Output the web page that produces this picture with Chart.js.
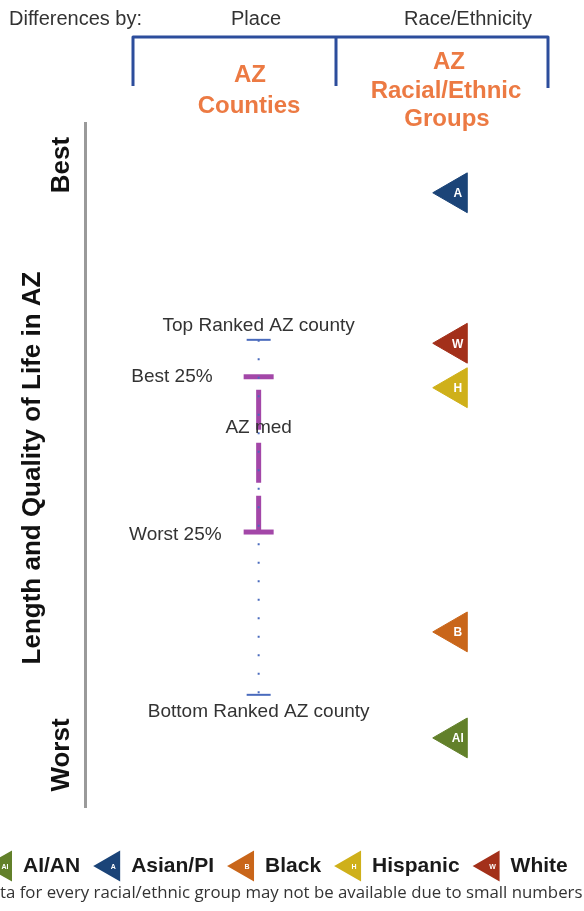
<!DOCTYPE html>
<html lang="en">
<head>
<meta charset="UTF-8">
<title>Length and Quality of Life in AZ</title>
<script src="https://cdn.jsdelivr.net/npm/chart.js@4.4.1/dist/chart.umd.min.js"></script>
<style>
  html, body { margin: 0; padding: 0; background: #fff; }
  #grafico { display: block; }
</style>
</head>
<body>
<canvas id="grafico" width="584" height="911"></canvas>
<script>
// Dados (0 = pior, 100 = melhor)
const grupos = ['AI/AN', 'Asian/PI', 'Black', 'Hispanic', 'White'];
const letrasGrupos = ['AI', 'A', 'B', 'H', 'W'];
const coresGrupos = ['#62802a', '#1b4478', '#c9661a', '#cfb01a', '#a3301a'];
const valoresGrupos = [10.1, 89.8, 25.6, 61.3, 67.8];

const rotulosCondados = ['Top Ranked AZ county', 'Best 25%', 'AZ med', 'Worst 25%', 'Bottom Ranked AZ county'];
const valoresCondados = [68.3, 62.9, 55.4, 40.2, 16.4];

const colunas = ['Place', 'Race/Ethnicity'];
const titulosColunas = [['AZ', 'Counties'], ['AZ', 'Racial/Ethnic', 'Groups']];
const rotulosEixo = ['Best', 'Length and Quality of Life in AZ', 'Worst'];
const nota = 'ta for every racial/ethnic group may not be available due to small numbers';

// Posição horizontal das duas colunas (escala x de 0 a 100)
const X_CONDADOS = 34.8;
const X_GRUPOS = 74.3;

const FONTE = '"Liberation Sans", Arial, sans-serif';
const LARANJA = '#ec7a43';
const AZUL_CHAVE = '#2c4d9c';
const ROXO = '#a347a8';
const AZUL_PONTOS = '#4a6bbd';

// Cabeçalho com a chave azul
function desenharCabecalho(ctx) {
  ctx.save();
  ctx.fillStyle = '#333';
  ctx.font = '20px ' + FONTE;
  ctx.textBaseline = 'middle';
  ctx.textAlign = 'left';
  ctx.fillText('Differences by:', 9, 19);
  ctx.textAlign = 'center';
  ctx.fillText(colunas[0], 256, 19);
  ctx.fillText(colunas[1], 468, 19);

  ctx.strokeStyle = AZUL_CHAVE;
  ctx.lineWidth = 3;
  ctx.lineJoin = 'round';
  ctx.beginPath();
  ctx.moveTo(133, 86);
  ctx.lineTo(133, 37);
  ctx.lineTo(548, 37);
  ctx.lineTo(548, 88);
  ctx.moveTo(336, 37);
  ctx.lineTo(336, 86);
  ctx.stroke();

  ctx.fillStyle = LARANJA;
  ctx.font = 'bold 24px ' + FONTE;
  ctx.fillText(titulosColunas[0][0], 250, 75);
  ctx.fillText(titulosColunas[0][1], 249, 106);
  ctx.fillText(titulosColunas[1][0], 449, 62);
  ctx.fillText(titulosColunas[1][1], 446, 91);
  ctx.fillText(titulosColunas[1][2], 447, 119);
  ctx.restore();
}

// Textos verticais à esquerda do eixo
function desenharEixoEsquerdo(chart) {
  const ctx = chart.ctx;
  ctx.save();
  ctx.fillStyle = '#111';
  ctx.font = 'bold 26px ' + FONTE;
  ctx.textAlign = 'center';
  ctx.textBaseline = 'middle';
  const posicoes = [[62, 165], [33, 468], [62, 755]];
  rotulosEixo.forEach((texto, i) => {
    ctx.save();
    ctx.translate(posicoes[i][0], posicoes[i][1]);
    ctx.rotate(-Math.PI / 2);
    ctx.fillText(texto, 0, 0);
    ctx.restore();
  });
  ctx.restore();
}

// Rótulos da coluna de condados, presos aos valores da escala
function desenharRotulosCondados(chart) {
  const ctx = chart.ctx;
  const xs = chart.scales.x;
  const ys = chart.scales.y;
  const xc = xs.getPixelForValue(X_CONDADOS);
  ctx.save();
  ctx.fillStyle = '#333';
  ctx.font = '19px ' + FONTE;
  ctx.textBaseline = 'middle';
  const ajustes = [
    { dx: 0, dy: -14, alinhar: 'center' },
    { dx: -46, dy: 0, alinhar: 'right' },
    { dx: 0, dy: 0, alinhar: 'center' },
    { dx: -37, dy: 3, alinhar: 'right' },
    { dx: 0, dy: 17, alinhar: 'center' }
  ];
  rotulosCondados.forEach((texto, i) => {
    const y = ys.getPixelForValue(valoresCondados[i]);
    ctx.textAlign = ajustes[i].alinhar;
    ctx.fillText(texto, xc + ajustes[i].dx, y + ajustes[i].dy);
  });
  ctx.restore();
}

// Triângulo apontando para a esquerda
function desenharTriangulo(ctx, cor, x, y, raio) {
  ctx.fillStyle = cor;
  ctx.strokeStyle = cor;
  if (Chart.helpers && Chart.helpers.drawPoint) {
    Chart.helpers.drawPoint(ctx, { pointStyle: 'triangle', rotation: -90, radius: raio, borderWidth: 1 }, x, y);
  } else {
    ctx.beginPath();
    ctx.moveTo(x - raio, y);
    ctx.lineTo(x + raio / 2, y - raio * 0.866);
    ctx.lineTo(x + raio / 2, y + raio * 0.866);
    ctx.closePath();
    ctx.fill();
  }
}

// Legenda no rodapé
function desenharLegenda(ctx) {
  const y = 866;
  const raio = 16;
  ctx.save();
  ctx.textBaseline = 'middle';
  ctx.textAlign = 'left';
  let x = -13;
  grupos.forEach((nome, i) => {
    desenharTriangulo(ctx, coresGrupos[i], x + raio, y, raio);
    ctx.fillStyle = '#fff';
    ctx.font = 'bold 7px ' + FONTE;
    ctx.textAlign = 'center';
    ctx.fillText(letrasGrupos[i], x + raio + 2, y + 1);
    const xTexto = x + raio * 1.5 + 12;
    ctx.fillStyle = '#1a1a1a';
    ctx.font = 'bold 21px ' + FONTE;
    ctx.textAlign = 'left';
    ctx.fillText(nome, xTexto, y);
    x = xTexto + ctx.measureText(nome).width + 15;
  });
  ctx.restore();
}

// Nota de rodapé
function desenharNota(ctx) {
  ctx.save();
  ctx.font = '14px "Open Sans", sans-serif';
  const largura = ctx.measureText(nota).width;
  const tamanho = 14 * 583 / largura;
  ctx.font = tamanho.toFixed(2) + 'px "Open Sans", sans-serif';
  ctx.fillStyle = '#333';
  ctx.textBaseline = 'middle';
  ctx.textAlign = 'left';
  ctx.fillText(nota, 0, 893);
  ctx.restore();
}

const pluginTextos = {
  id: 'textos',
  afterDatasetsDraw(chart) {
    const ctx = chart.ctx;
    const meta = chart.getDatasetMeta(2);
    ctx.save();
    ctx.fillStyle = '#fff';
    ctx.font = 'bold 12px ' + FONTE;
    ctx.textAlign = 'center';
    ctx.textBaseline = 'middle';
    meta.data.forEach((ponto, i) => {
      ctx.fillText(letrasGrupos[i], ponto.x + 2, ponto.y + 1);
    });
    ctx.restore();
  },
  afterDraw(chart) {
    desenharCabecalho(chart.ctx);
    desenharEixoEsquerdo(chart);
    desenharRotulosCondados(chart);
    desenharLegenda(chart.ctx);
    desenharNota(chart.ctx);
  }
};

function criarGrafico() {
  const ctx = document.getElementById('grafico').getContext('2d');
  new Chart(ctx, {
    type: 'scatter',
    data: {
      datasets: [
        {
          // faixa completa dos condados (pontilhada)
          label: 'AZ counties',
          data: [
            { x: X_CONDADOS, y: valoresCondados[0] },
            { x: X_CONDADOS, y: valoresCondados[4] }
          ],
          showLine: true,
          borderColor: AZUL_PONTOS,
          borderWidth: 2,
          borderDash: [2, 16.5],
          pointStyle: 'line',
          pointRadius: 12,
          pointBorderColor: AZUL_PONTOS,
          pointBorderWidth: 2,
          clip: false
        },
        {
          // quartis (tracejado roxo)
          label: 'Best 25% - Worst 25%',
          data: [
            { x: X_CONDADOS, y: valoresCondados[1] },
            { x: X_CONDADOS, y: valoresCondados[3] }
          ],
          showLine: true,
          borderColor: ROXO,
          borderWidth: 5,
          borderDash: [40, 13],
          borderDashOffset: 40,
          pointStyle: 'line',
          pointRadius: 15,
          pointBorderColor: ROXO,
          pointBorderWidth: 5,
          clip: false
        },
        {
          label: 'Racial/Ethnic groups',
          data: valoresGrupos.map(v => ({ x: X_GRUPOS, y: v })),
          showLine: false,
          pointStyle: 'triangle',
          pointRotation: -90,
          pointRadius: 23,
          pointBackgroundColor: coresGrupos,
          pointBorderColor: coresGrupos,
          pointBorderWidth: 1,
          clip: false
        }
      ]
    },
    options: {
      responsive: false,
      animation: false,
      events: [],
      layout: { autoPadding: false, padding: { left: 85, right: 0, top: 123, bottom: 104 } },
      scales: {
        x: { type: 'linear', min: 0, max: 100, display: false },
        y: {
          type: 'linear',
          min: 0,
          max: 100,
          position: 'left',
          ticks: { display: false },
          grid: { display: false, drawTicks: false },
          border: { display: true, color: '#9a9a9a', width: 3 }
        }
      },
      plugins: {
        legend: { display: false },
        tooltip: { enabled: false }
      }
    },
    plugins: [pluginTextos]
  });
}

window.addEventListener('load', criarGrafico);
</script>
</body>
</html>
